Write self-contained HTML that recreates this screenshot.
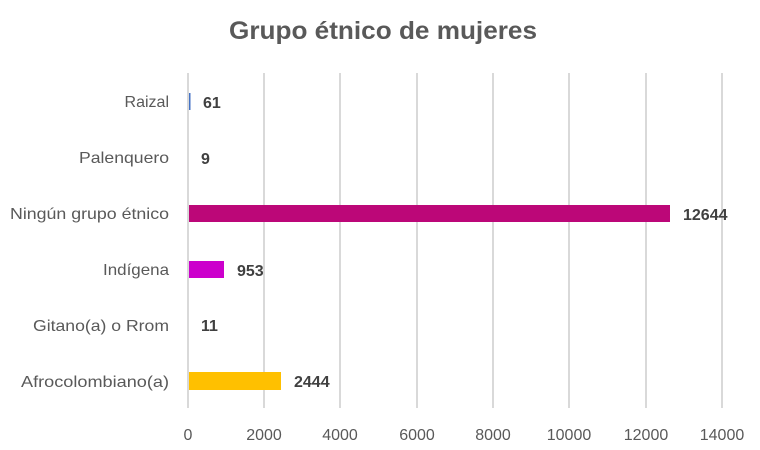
<!DOCTYPE html>
<html><head><style>body{margin:0;background:#fff}svg{display:block}text{font-family:"Liberation Sans",Calibri,sans-serif}</style></head><body>
<svg width="760" height="450" xmlns="http://www.w3.org/2000/svg">
<rect width="760" height="450" fill="#fff"/>
<text x="383" y="39" text-anchor="middle" font-size="25" font-weight="bold" fill="#595959" textLength="308" lengthAdjust="spacingAndGlyphs">Grupo étnico de mujeres</text>
<g stroke="#d9d9d9" stroke-width="2">
<line x1="188" y1="73" x2="188" y2="408"/><line x1="264" y1="73" x2="264" y2="408"/><line x1="340" y1="73" x2="340" y2="408"/><line x1="417" y1="73" x2="417" y2="408"/><line x1="493" y1="73" x2="493" y2="408"/><line x1="569" y1="73" x2="569" y2="408"/><line x1="646" y1="73" x2="646" y2="408"/><line x1="722" y1="73" x2="722" y2="408"/>
</g>
<rect x="189" y="93" width="1.5" height="17" fill="#4472c4"/>
<rect x="189" y="205" width="481" height="17" fill="#bc0778"/>
<rect x="189" y="261" width="35" height="17" fill="#cc00cc"/>
<rect x="189" y="372" width="92" height="18" fill="#ffc000"/>
<g font-size="16" fill="#595959" text-anchor="end">
<text x="169" y="107">Raizal</text><text x="169" y="163" textLength="90" lengthAdjust="spacingAndGlyphs">Palenquero</text><text x="169" y="219" textLength="159" lengthAdjust="spacingAndGlyphs">Ningún grupo étnico</text><text x="169" y="275" textLength="66" lengthAdjust="spacingAndGlyphs">Indígena</text><text x="169" y="331" textLength="136" lengthAdjust="spacingAndGlyphs">Gitano(a) o Rrom</text><text x="169" y="387" textLength="148" lengthAdjust="spacingAndGlyphs">Afrocolombiano(a)</text>
</g>
<g font-size="16" font-weight="bold" fill="#404040">
<text x="203" y="108">61</text><text x="201" y="164">9</text><text x="683" y="220">12644</text><text x="237" y="276">953</text><text x="201" y="331">11</text><text x="294" y="387">2444</text>
</g>
<g font-size="16" fill="#595959" text-anchor="middle">
<text x="188" y="440">0</text><text x="264" y="440">2000</text><text x="340" y="440">4000</text><text x="417" y="440">6000</text><text x="493" y="440">8000</text><text x="569" y="440">10000</text><text x="646" y="440">12000</text><text x="722" y="440">14000</text>
</g>
</svg>
</body></html>
